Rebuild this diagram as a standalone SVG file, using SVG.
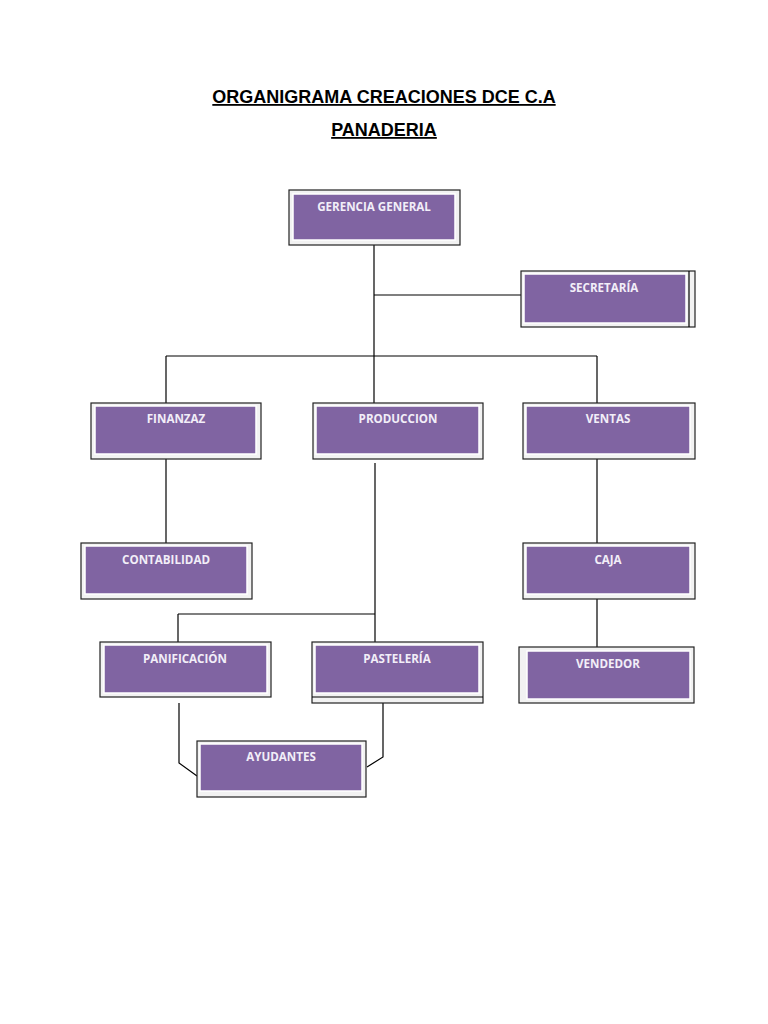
<svg xmlns="http://www.w3.org/2000/svg" width="768" height="1024" viewBox="0 0 768 1024">
<style>
.t{font-family:"Liberation Sans",Arial,sans-serif;font-weight:bold;font-size:18px;text-decoration:underline;fill:#000;text-anchor:middle}
.frame{fill:#f2f2f2;stroke:#222;stroke-width:1.2}
.box{fill:#8064a2;stroke:#ffffff;stroke-width:1.5}
.lbl{font-family:"Open Sans","Liberation Sans",sans-serif;font-weight:bold;font-size:11.6px;fill:#f2eef8;text-anchor:middle}
.c{fill:none;stroke:#000;stroke-width:1.2}
</style>
<rect width="768" height="1024" fill="#ffffff"/>
<text class="t" x="384" y="103">ORGANIGRAMA CREACIONES DCE C.A</text>
<text class="t" x="384" y="136">PANADERIA</text>
<g id="connectors">
<path class="c" d="M374 245V403"/>
<path class="c" d="M374 295H521"/>
<path class="c" d="M166 356H597"/>
<path class="c" d="M166 356V403"/>
<path class="c" d="M597 356V403"/>
<path class="c" d="M166 459V543"/>
<path class="c" d="M375 463V642"/>
<path class="c" d="M178 614H375"/>
<path class="c" d="M178 614V642"/>
<path class="c" d="M597 459V543"/>
<path class="c" d="M597 599V647"/>
<path class="c" d="M179 703V763L197 776"/>
<path class="c" d="M383 703V757L367 767"/>
</g>
<g id="gerencia"><rect class="frame" x="289" y="190" width="171" height="55"/><rect class="box" x="293" y="194" width="162" height="46"/><text class="lbl" x="374" y="211">GERENCIA GENERAL</text></g>
<g id="secretaria"><rect class="frame" x="521" y="271" width="174" height="56"/><path class="c" d="M689 271V327"/><rect class="box" x="524" y="274" width="162" height="49"/><text class="lbl" x="604" y="292">SECRETARÍA</text></g>
<g id="finanzaz"><rect class="frame" x="91" y="403" width="170" height="56"/><rect class="box" x="95" y="406" width="161" height="48"/><text class="lbl" x="176" y="423">FINANZAZ</text></g>
<g id="produccion"><rect class="frame" x="313" y="403" width="170" height="56"/><rect class="box" x="316" y="406" width="163" height="48"/><text class="lbl" x="398" y="423">PRODUCCION</text></g>
<g id="ventas"><rect class="frame" x="523" y="403" width="172" height="56"/><rect class="box" x="526" y="406" width="164" height="48"/><text class="lbl" x="608" y="423">VENTAS</text></g>
<g id="contabilidad"><rect class="frame" x="81" y="543" width="171" height="56"/><rect class="box" x="85" y="546" width="162" height="48"/><text class="lbl" x="166" y="564">CONTABILIDAD</text></g>
<g id="caja"><rect class="frame" x="523" y="543" width="172" height="56"/><rect class="box" x="526" y="546" width="164" height="48"/><text class="lbl" x="608" y="564">CAJA</text></g>
<g id="panificacion"><rect class="frame" x="100" y="642" width="171" height="55"/><rect class="box" x="104" y="645" width="163" height="48"/><text class="lbl" x="185" y="663">PANIFICACIÓN</text></g>
<g id="pasteleria"><rect class="frame" x="312" y="642" width="171" height="61"/><path class="c" d="M312 697H483"/><rect class="box" x="315" y="645" width="164" height="48"/><text class="lbl" x="397" y="663">PASTELERÍA</text></g>
<g id="vendedor"><rect class="frame" x="519" y="647" width="175" height="56"/><rect class="box" x="527" y="651" width="163" height="48"/><text class="lbl" x="608" y="668">VENDEDOR</text></g>
<g id="ayudantes"><rect class="frame" x="197" y="741" width="169" height="56"/><rect class="box" x="200" y="744" width="162" height="47"/><text class="lbl" x="281" y="761">AYUDANTES</text></g>
</svg>
